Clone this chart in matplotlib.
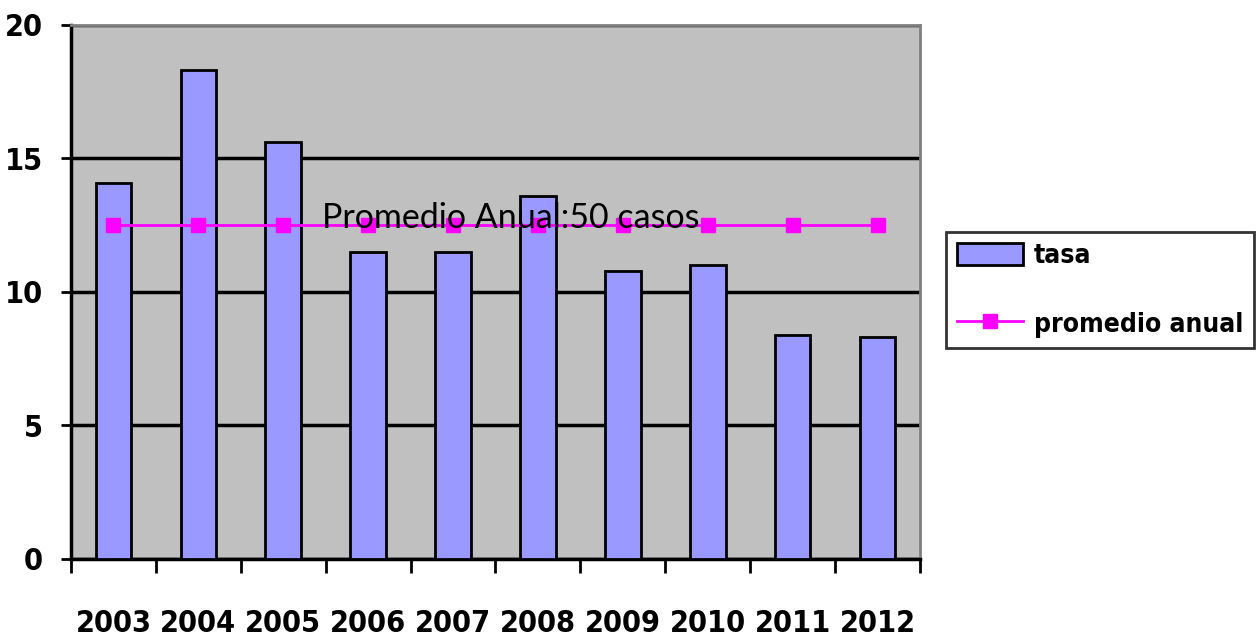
import matplotlib
matplotlib.use("Agg")
from matplotlib import pyplot as plt

years = ["2003", "2004", "2005", "2006", "2007", "2008", "2009", "2010", "2011", "2012"]
tasa = [14.1, 18.3, 15.6, 11.5, 11.5, 13.6, 10.8, 11.0, 8.4, 8.3]
promedio = [12.5] * 10
yticks = [0, 5, 10, 15, 20]
nota = "Promedio Anual:50 casos"

fig = plt.figure(figsize=(12.59, 6.39), dpi=100)
ax = fig.add_axes([0.0564, 0.1252, 0.6743, 0.8357])
ax.set_facecolor("#C0C0C0")

x = list(range(len(years)))
bars = ax.bar(x, tasa, width=0.42, color="#9999FF", edgecolor="black",
              linewidth=2, label="tasa", zorder=3)
line, = ax.plot(x, promedio, color="#FF00FF", linewidth=2, marker="s",
                markersize=10, label="promedio anual", zorder=4)
ax.text(2.46, 12.41, nota, ha="left", va="baseline", fontsize=24.5,
        family="Lato", zorder=5)

ax.set_xlim(-0.5, len(years) - 0.5)
ax.set_ylim(0, 20)
ax.set_yticks(yticks)
ax.set_yticklabels([str(v) for v in yticks])
ax.yaxis.grid(True, color="black", linewidth=2.5, zorder=1)
ax.set_axisbelow(True)

# ticks at category boundaries, labels at centers
ax.set_xticks([i - 0.5 for i in range(len(years) + 1)])
ax.set_xticklabels([])
ax.set_xticks(x, minor=True)
ax.set_xticklabels(years, minor=True)
ax.tick_params(axis="x", which="major", length=10, width=2, direction="out")
ax.tick_params(axis="x", which="minor", length=0, pad=36)
ax.tick_params(axis="y", length=7, width=2, direction="out", pad=13)
for lab in ax.get_xticklabels(minor=True) + ax.get_yticklabels():
    lab.set_fontsize(22)
    lab.set_fontweight("bold")
    lab.set_fontstretch("condensed")

for side in ["left", "bottom"]:
    ax.spines[side].set_linewidth(2.5)
    ax.spines[side].set_color("black")
for side in ["top", "right"]:
    ax.spines[side].set_linewidth(2)
    ax.spines[side].set_color("#808080")

leg = fig.legend([bars, line], ["tasa", "promedio anual"], loc="upper left",
                 bbox_to_anchor=(0.7514, 0.6369), frameon=True, fancybox=False,
                 edgecolor="black", handlelength=2.5, handleheight=0.95,
                 handletextpad=0.42, labelspacing=1.6, borderpad=0.4,
                 borderaxespad=0,
                 prop={"size": 19, "weight": "bold", "stretch": "condensed"})
leg.get_frame().set_linewidth(2)

plt.savefig("out.png", dpi=100)
